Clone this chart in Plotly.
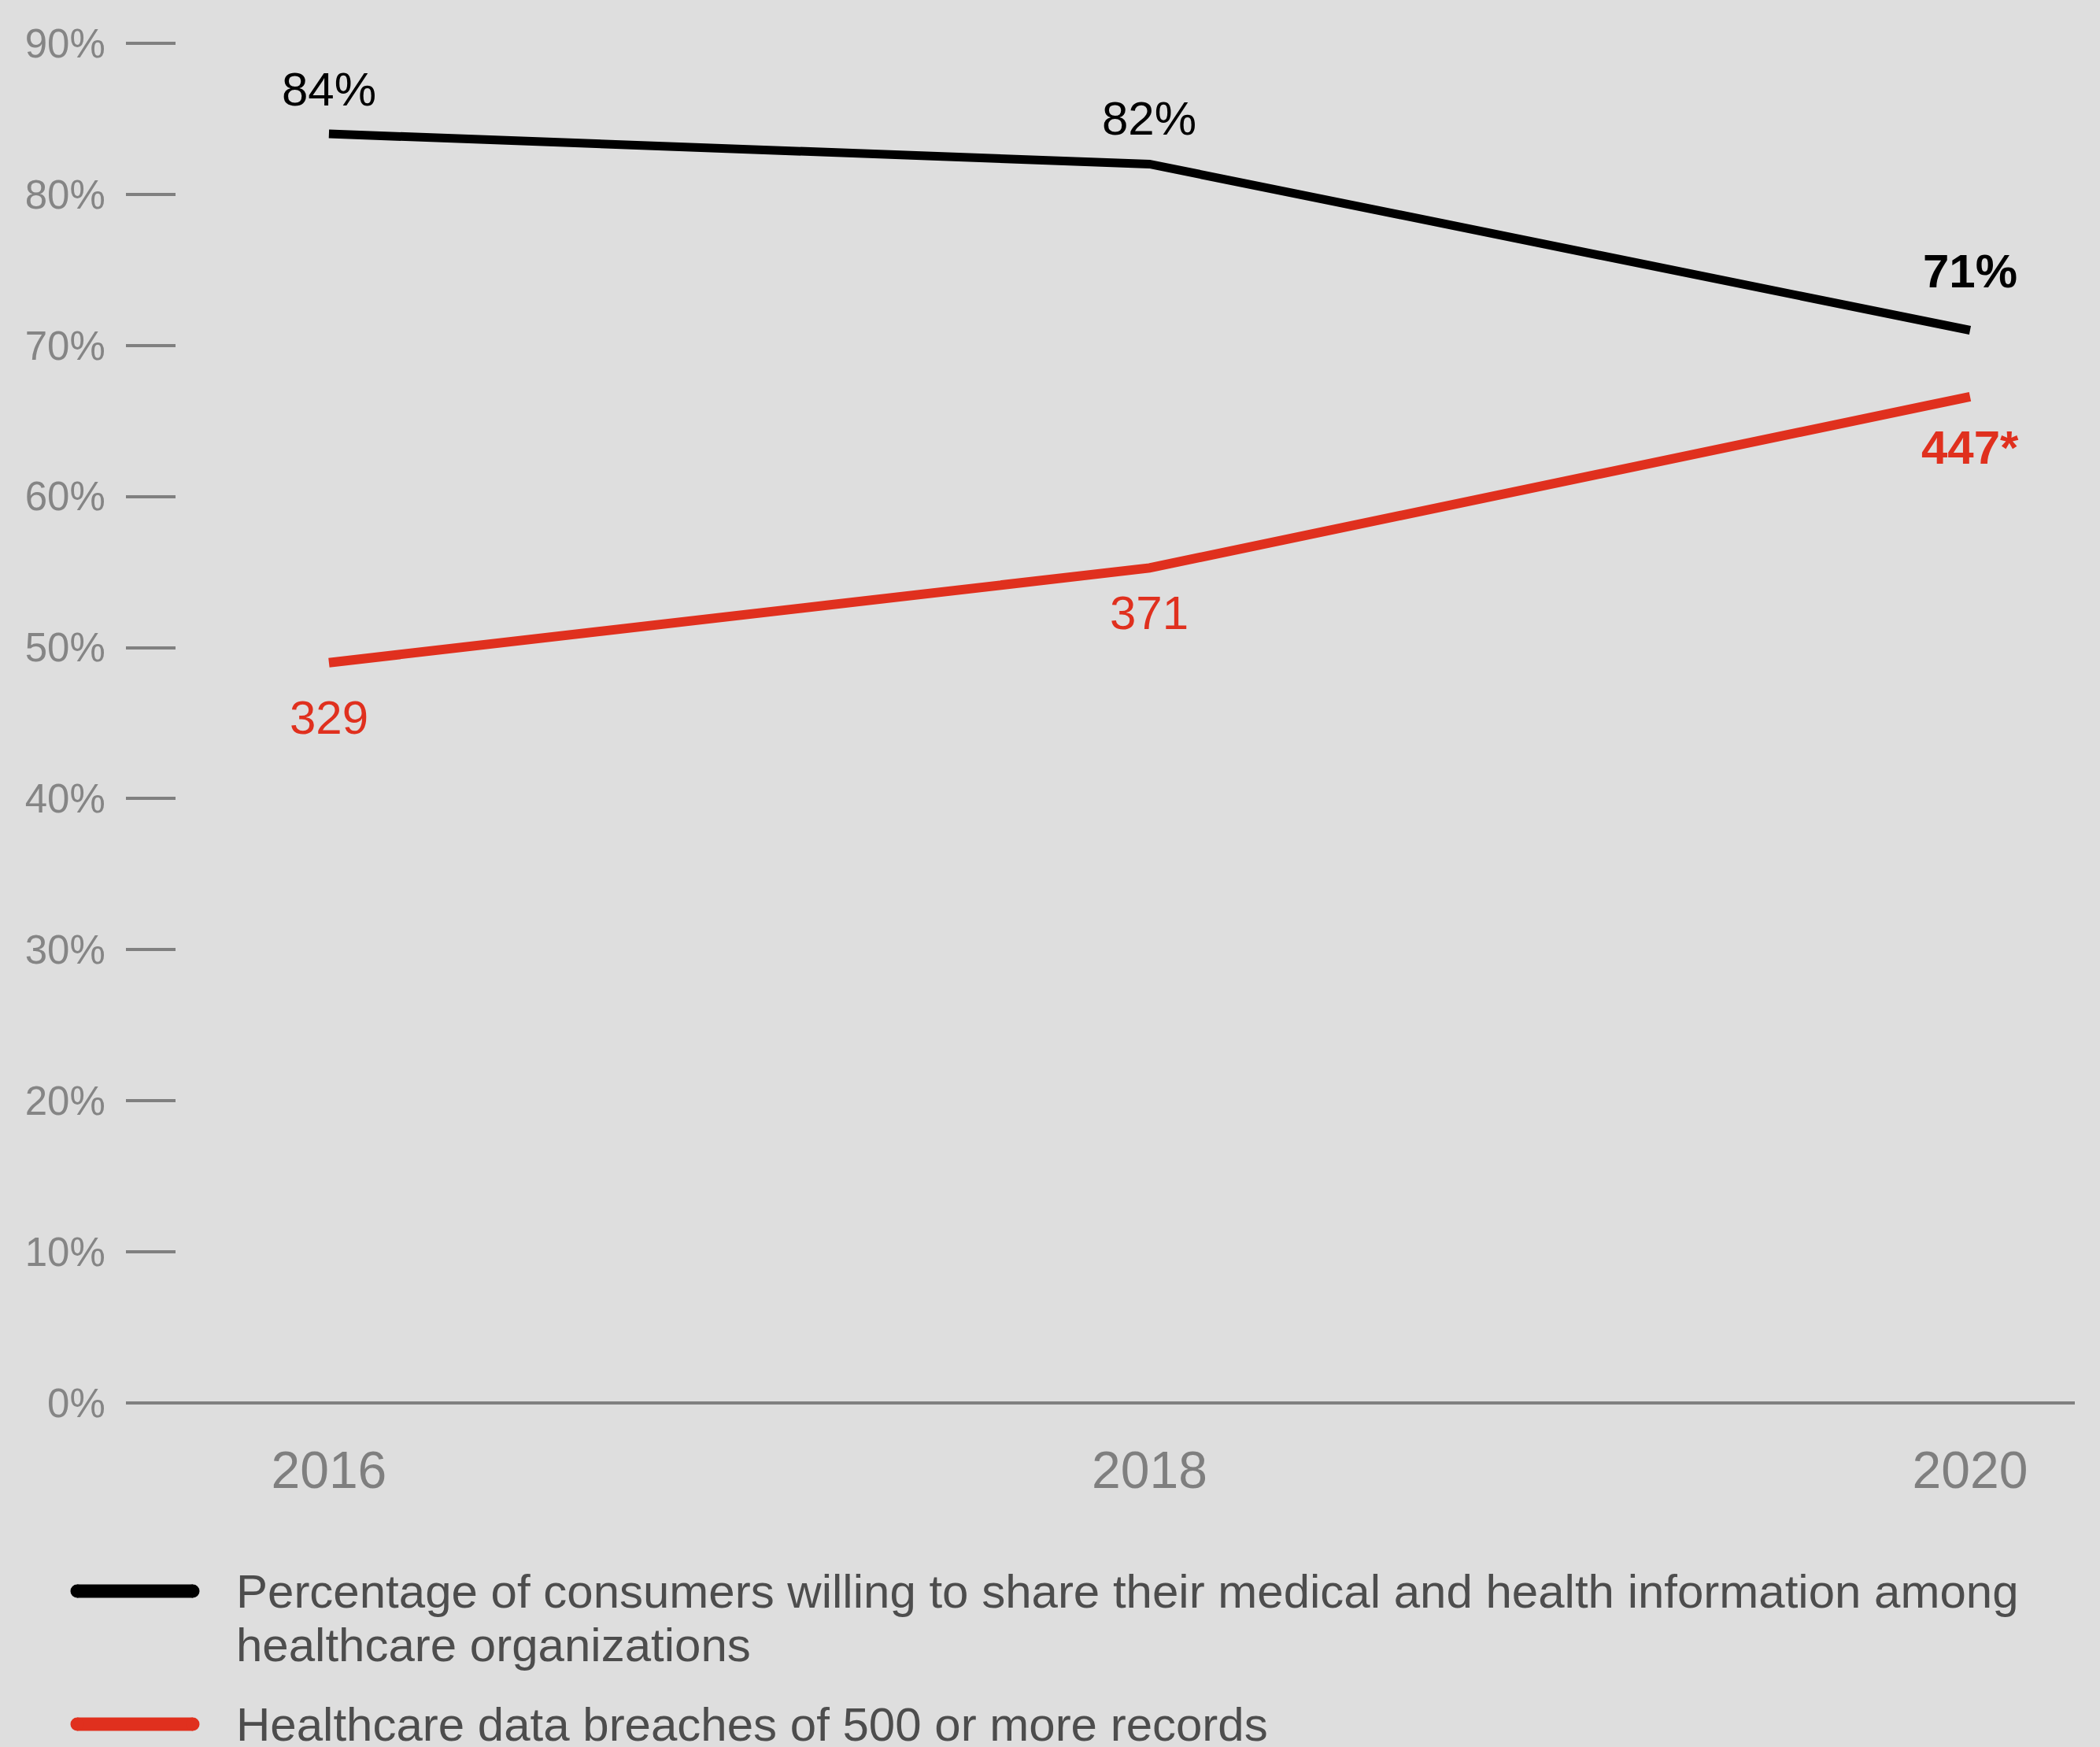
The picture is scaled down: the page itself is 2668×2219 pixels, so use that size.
import plotly.graph_objects as go

# data
years = [2016, 2018, 2020]
year_labels = ["2016", "2018", "2020"]
share_pct = [84, 82, 71]
share_labels = ["84%", "82%", "<b>71%</b>"]
breaches = [329, 371, 447]
breach_labels = ["329", "371", "<b>447*</b>"]
pct_ticks = [0, 10, 20, 30, 40, 50, 60, 70, 80, 90]
pct_tick_text = [f"{v}%" for v in pct_ticks]
breach_ticks = [100, 200, 300, 400, 500, 600]
legend_lines = [
    "Percentage of consumers willing to share their medical and health information among",
    "healthcare organizations",
    "Healthcare data breaches of 500 or more records",
]

# page geometry (px)
W, H = 2668, 2219
PLOT_L, PLOT_R, PLOT_T, PLOT_B = 224, 2615, 10, 1782

BG = "#dedede"
GREY = "#808080"
RED = "#e0301e"
FONT = "Liberation Sans"

PCT_TOP = (PLOT_B - PLOT_T) / 19.19
# right-hand tick scale and the (slightly different) scale the red line uses
TICK_RANGE = [-1.74, 614.4]
BREACH_RANGE = [0.7, 619.4]


def paper_x(px):
    return (px - PLOT_L) / (PLOT_R - PLOT_L)


def paper_y(py):
    return (PLOT_B - py) / (PLOT_B - PLOT_T)


fig = go.Figure()
fig.add_trace(go.Scatter(x=years, y=share_pct, mode="lines",
                         line=dict(color="black", width=11), showlegend=False))
fig.add_trace(go.Scatter(x=years, y=breaches, mode="lines", yaxis="y3",
                         line=dict(color=RED, width=12), showlegend=False))

# value labels
share_dy = [21, 22, 40]
breach_dy = [-34, -22, -29]
for x, v, t, dy in zip(years, share_pct, share_labels, share_dy):
    fig.add_annotation(x=x, y=v, text=t, showarrow=False, xanchor="center",
                       yanchor="bottom", yshift=dy,
                       font=dict(family=FONT, size=60, color="black"))
for x, v, t, dy in zip(years, breaches, breach_labels, breach_dy):
    fig.add_annotation(x=x, y=v, yref="y3", text=t, showarrow=False,
                       xanchor="center", yanchor="top", yshift=dy,
                       font=dict(family=FONT, size=60, color=RED))

# baseline
fig.add_shape(type="line", xref="paper", yref="paper",
              x0=paper_x(160), x1=paper_x(2636), y0=0, y1=0,
              line=dict(color=GREY, width=4))

# manual legend
legend_y = [2021, 2190]
for py, col in zip(legend_y, ["black", RED]):
    fig.add_shape(type="line", xref="paper", yref="paper",
                  x0=paper_x(98), x1=paper_x(245), y0=paper_y(py), y1=paper_y(py),
                  line=dict(color=col, width=17))
    for cx in [98, 245]:
        fig.add_shape(type="circle", xref="paper", yref="paper",
                      xsizemode="pixel", ysizemode="pixel",
                      xanchor=paper_x(cx), yanchor=paper_y(py),
                      x0=-8.5, x1=8.5, y0=-8.5, y1=8.5,
                      fillcolor=col, line=dict(width=0))

for py, txt in zip([2021, 2089, 2190], legend_lines):
    fig.add_annotation(x=paper_x(298), y=paper_y(py), xref="paper", yref="paper",
                       text=txt, showarrow=False, xanchor="left", yanchor="middle",
                       font=dict(family=FONT, size=60, color="#4d4d4d"))

fig.update_layout(
    width=W, height=H,
    paper_bgcolor=BG, plot_bgcolor=BG,
    margin=dict(l=PLOT_L, r=W - PLOT_R, t=PLOT_T, b=H - PLOT_B, autoexpand=False),
    font=dict(family=FONT, color=GREY),
    showlegend=False,
    xaxis=dict(range=[2015.628, 2020.215], tickvals=years, ticktext=year_labels,
               showgrid=False, zeroline=False, showline=False, ticks="",
               ticklabelstandoff=41, automargin=False,
               tickfont=dict(family=FONT, size=66, color="#7f7f7f")),
    yaxis=dict(range=[0, PCT_TOP], tickvals=pct_ticks, ticktext=pct_tick_text,
               showgrid=False, zeroline=False, showline=False,
               ticks="outside", ticklen=63, tickwidth=4, tickcolor=GREY,
               ticklabelstandoff=16, automargin=False,
               tickfont=dict(family=FONT, size=51, color="#858585")),
    yaxis2=dict(range=TICK_RANGE, overlaying="y", side="right",
                tickvals=breach_ticks, showticklabels=False,
                showgrid=False, zeroline=False, showline=False,
                ticks="outside", ticklen=60, tickwidth=4, tickcolor=GREY,
                automargin=False),
    yaxis3=dict(range=BREACH_RANGE, overlaying="y", side="right", visible=False),
)

# drop the default page margin so the figure fills the window
page_js = "document.body.style.margin='0';document.body.style.background='#dedede';"
fig.write_html("out.html", post_script=page_js, config={"displayModeBar": False})
